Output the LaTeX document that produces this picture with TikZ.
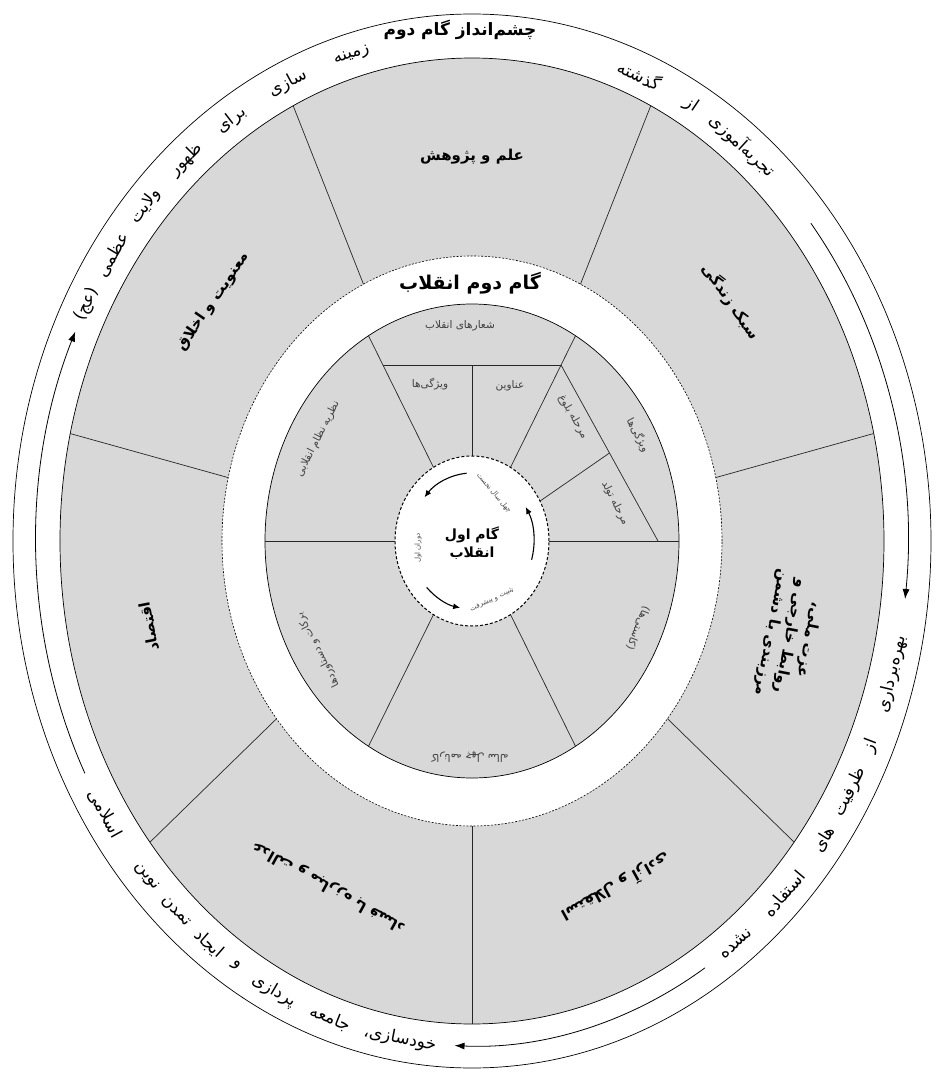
\documentclass[tikz,border=0pt]{standalone}
\usepackage{fontspec}
\usepackage{tikz}
\usetikzlibrary{arrows.meta, positioning}
\TeXXeTstate=1
\newfontfamily\fa[Script=Arabic]{DejaVu Sans}
\newcommand{\pers}[1]{\beginR#1\endR}
\definecolor{diskgray}{RGB}{216,216,216}

\begin{document}
\begin{tikzpicture}[x=1pt, y=1pt,
  ring/.style={draw=black, line width=0.7pt},
  spoke/.style={draw=black!85, line width=0.7pt},
  sector/.style={font=\fa\bfseries\fontsize{15}{19}\selectfont, align=center, inner sep=1pt},
  inner/.style={font=\fa\fontsize{10.5}{12}\selectfont, align=center, inner sep=1pt, text=black!75},
  tiny/.style={font=\fa\fontsize{7}{8}\selectfont, inner sep=0pt, text=black!70},
  title/.style={font=\fa\bfseries\fontsize{17}{20}\selectfont, align=center, inner sep=1pt},
  word/.style={font=\fa\fontsize{17}{19}\selectfont, inner sep=0pt},
  cycle/.style={line width=0.8pt, -{Latex[length=10pt, width=7pt]}},
  turn/.style={line width=1.1pt, -{Latex[length=7pt, width=6pt]}}
]

\useasboundingbox[fill=white] (-472,-531) rectangle (464,541);

% Outer band: vision of the second step
\draw[ring] (0,0) ellipse [x radius=459, y radius=527];
\filldraw[ring, fill=diskgray] (0,0) ellipse [x radius=412, y radius=483];
\filldraw[fill=white, draw=black, dashed, dash pattern=on 2pt off 1.5pt, line width=0.6pt] (0,0) ellipse [x radius=250, y radius=285];
\foreach \k in {0,...,6}
  \draw[spoke] (-90+51.43*\k:250 and 285) -- (-90+51.43*\k:412 and 483);

% Cycle arrows in the band
\draw[cycle] (39:436 and 505) arc[start angle=39, end angle=-6.6, x radius=436, y radius=505];
\draw[cycle] (-57.7:436 and 505) arc[start angle=-57.7, end angle=-92.3, x radius=436, y radius=505];
\draw[cycle] (207.4:436 and 505) arc[start angle=207.4, end angle=155.5, x radius=436, y radius=505];

% Band texts, word by word along the ellipse
\node[title] (vision) at (-12,511) {\pers{چشم‌انداز گام دوم}};
\foreach \w/\a [count=\i] in {تجربه‌آموزی/51.6, از/59.8, گذشته/67.4}
  \node[word, rotate={atan2(-505*cos(\a),436*sin(\a))}] (past\i) at (\a:436 and 505) {\pers{\w}};
\foreach \w/\a [count=\i] in {بهره‌برداری/-15.3, از/-23.9, ظرفیت/-29.8, های/-36.2, استفاده/-44.3, نشده/-52.8}
  \node[word, rotate={atan2(505*cos(\a),-436*sin(\a))}] (use\i) at (\a:436 and 505) {\pers{\w}};
\foreach \w/\a [count=\i] in {خودسازی،/260.5, جامعه/251, پردازی/243, و/237.3, ایجاد/232.9, تمدن/227.2, نوین/221.7, اسلامی/212.7}
  \node[word, rotate={atan2(505*cos(\a),-436*sin(\a))}] (self\i) at (\a:436 and 505) {\pers{\w}};
\foreach \w/\a [count=\i] in {زمینه/106, سازی/115, برای/123.5, ظهور/131, ولایت/138.5, عظمی/145.5, (عج)/152}
  \node[word, rotate={atan2(-505*cos(\a),436*sin(\a))}] (prep\i) at (\a:436 and 505) {\pers{\w}};

% Seven sectors
\node[sector] (science) at (90:331 and 384) {\pers{علم و پژوهش}};
\node[sector, rotate=-55.5] (lifestyle) at (38.57:331 and 384) {\pers{سبک زندگی}};
\node[sector, rotate=-101] (dignity) at (318,-95) {\pers{عزت ملی،}\\ \pers{روابط خارجی و}\\ \pers{مرزبندی با دشمن}};
\node[sector, rotate=-151] (freedom) at (-64.29:331 and 384) {\pers{استقلال و آزادی}};
\node[sector, rotate=151] (justice) at (244.29:331 and 384) {\pers{عدالت و مبارزه با فساد}};
\node[sector, rotate=101] (economy) at (192.86:331 and 384) {\pers{اقتصاد}};
\node[sector, rotate=55.5] (ethics) at (141.43:331 and 384) {\pers{معنویت و اخلاق}};

\node[title, font=\fa\bfseries\fontsize{19}{22}\selectfont] (second) at (-2,258) {\pers{گام دوم انقلاب}};

% Inner disk: the first step
\filldraw[ring, fill=diskgray] (0,0) ellipse [x radius=207, y radius=237];
\foreach \a in {0,60,...,300}
  \draw[spoke] (\a:77 and 85) -- (\a:207 and 237);
\draw[spoke] (-89,176) -- (89,176);
\draw[spoke] (0,176) -- (0,85);
\draw[spoke] (89,176) -- (186,0);
\draw[spoke] (28:77 and 85) -- (137.5,88);

\node[inner] (slogans) at (-12,215) {\pers{شعارهای انقلاب}};
\node[inner] (traits) at (-42,157) {\pers{ویژگی‌ها}};
\node[inner] (titles) at (38,155) {\pers{عناوین}};
\node[inner, rotate=-60] (mature) at (101,124) {\pers{مرحله بلوغ}};
\node[inner, rotate=-63] (birth) at (143,38) {\pers{مرحله تولد}};
\node[inner, rotate=-62] (features) at (166,106) {\pers{ویژگی‌ها}};
\node[inner, rotate=63] (theory) at (-154,102) {\pers{نظریه نظام انقلابی}};
\node[inner, rotate=117] (gains) at (-154,-109) {\pers{برکات و دستاوردها}};
\node[inner, rotate=180] (record) at (-2,-216) {\pers{کارنامه چهل ساله}};
\node[inner, rotate=-112] (gaps) at (166,-87) {\pers{(کاستی‌ها)}};

% Centre
\filldraw[fill=white, draw=black, dashed, dash pattern=on 3pt off 2pt, line width=1pt] (0,0) ellipse [x radius=77, y radius=85];
\draw[turn] (95:62 and 68) arc[start angle=95, end angle=140, x radius=62, y radius=68];
\draw[turn] (223:62 and 68) arc[start angle=223, end angle=259, x radius=62, y radius=68];
\draw[turn] (-16:62 and 68) arc[start angle=-16, end angle=30, x radius=62, y radius=68];
\node[title, font=\fa\bfseries\fontsize{14}{18}\selectfont] (first) at (0,-2) {\pers{گام اول}\\ \pers{انقلاب}};
\node[tiny, rotate=90] (era) at (-54,-7) {\pers{دوران اول}};
\node[tiny, rotate=-50] (forty) at (22,48) {\pers{چهل سال نخست}};
\node[tiny, rotate=25] (growth) at (20,-59) {\pers{تثبیت و پیشرفت}};

\end{tikzpicture}
\end{document}
